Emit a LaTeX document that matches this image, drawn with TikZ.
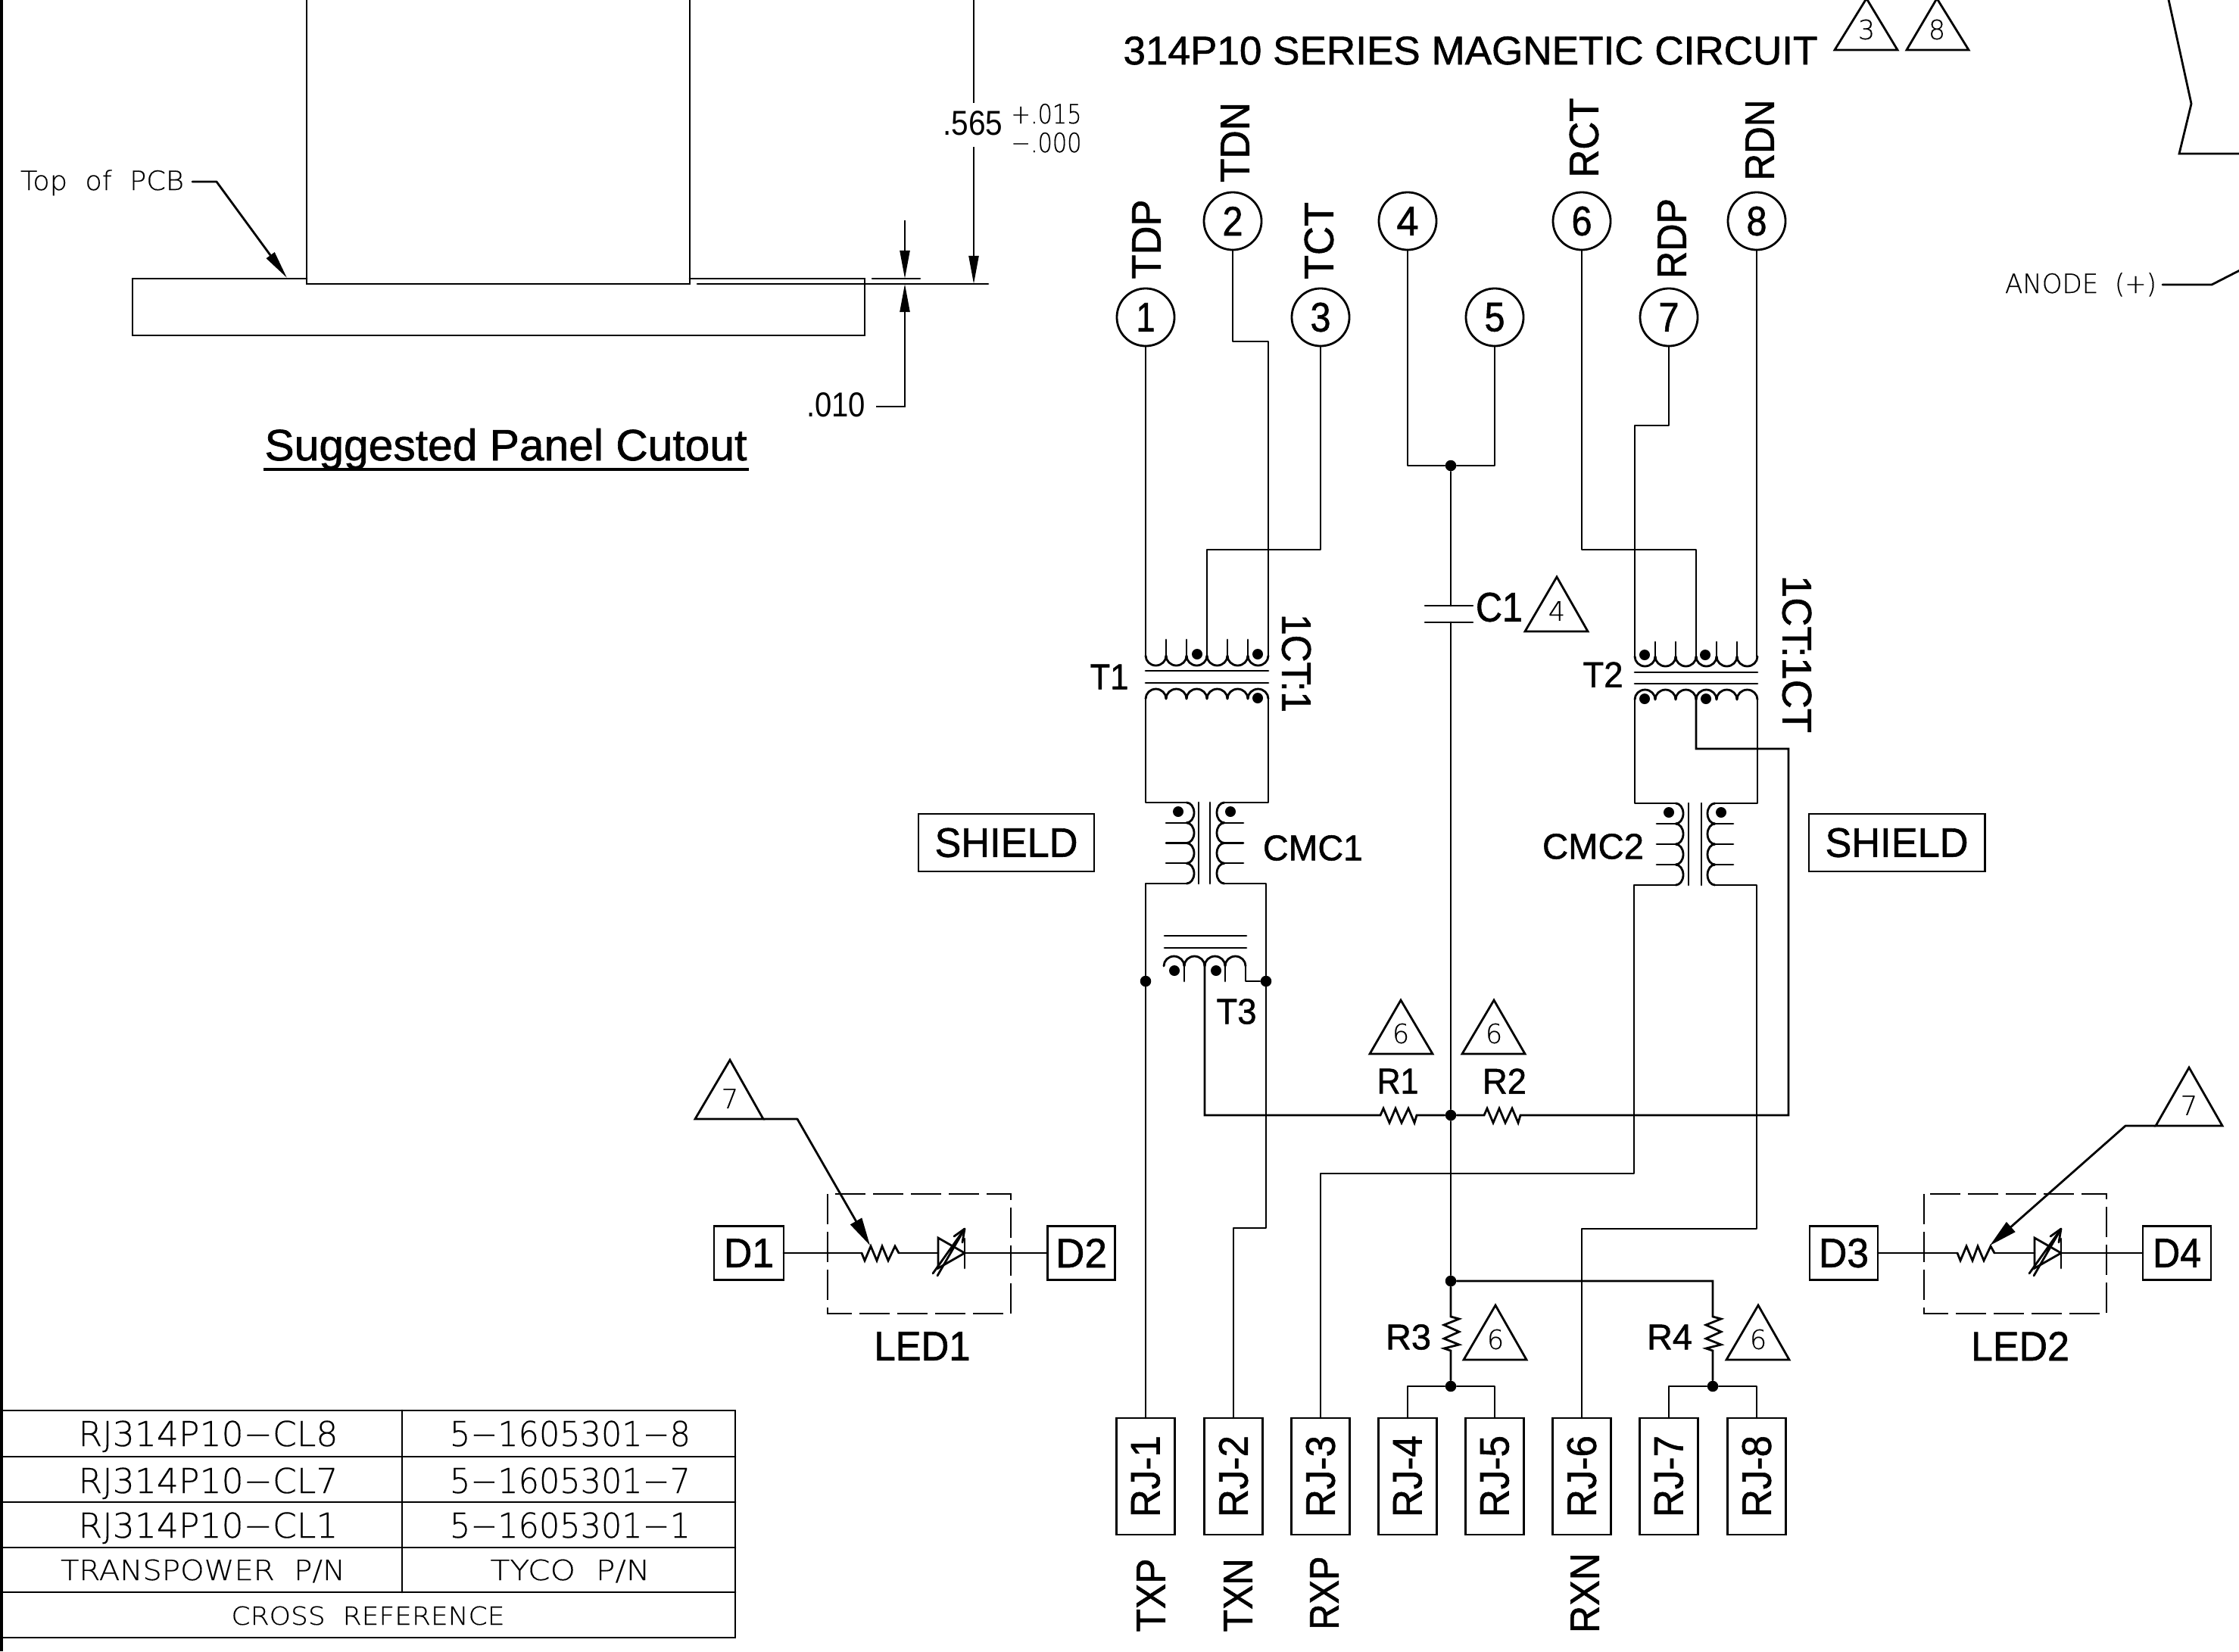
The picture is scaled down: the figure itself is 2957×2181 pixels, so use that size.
\documentclass[tikz,border=0pt]{standalone}
\usepackage{graphicx}
\usepackage{fontspec}
\setmainfont[FakeBold=1.1]{Liberation Sans}
\newfontfamily\plainf{Liberation Sans}
\newfontfamily\cadf[FakeBold=0.3]{DejaVu Sans ExtraLight}
\usetikzlibrary{arrows.meta}
\newlength\pxu \setlength\pxu{0.01cm}
\newcommand{\tw}[2]{\resizebox{#1\pxu}{\height}{#2}}
\newcommand{\hcoil}[5]{% x0, yj, n, endangle, h
  \foreach \i in {1,...,#3}{\draw[wire] ({#1+(\i-1)*27},#2) arc[start angle=180,end angle=#4,x radius=13.5,y radius=#5];}}
\newcommand{\hticks}[4]{% list, y1, y2
  \foreach \xx in {#1}{\draw[wire] (\xx,#2) -- (\xx,#3);}}
\newcommand{\vcoil}[5]{% x, y0, step, start, end
  \foreach \i in {0,1,2,3}{\draw[wire] (#1,{#2+\i*#3}) arc[start angle=#4,end angle=#5,x radius=10,y radius={#3/2}];}}
\newcommand{\tri}[7]{% name,xl,xr,ybase,xapex,yapex,digit
  \draw[wire,line join=miter] (#2,#4) -- (#5,#6) -- (#3,#4) -- cycle;
  \node[cad,font=\cadf\fontsize{10}{10}\selectfont] (#1) at ({#5},{#4-27}) {#7};}
\newcommand{\ledres}[1]{%
  \draw[wire,line join=miter] (1138+#1,1655) -- (1142+#1,1665) -- (1150+#1,1646) -- (1158+#1,1665) -- (1165+#1,1646) -- (1173+#1,1665) -- (1182+#1,1646) -- (1187+#1,1655);}
\newcommand{\ledsym}[1]{%
  \draw[wire,line join=miter] (1239+#1,1635) -- (1274+#1,1655) -- (1239+#1,1675) -- cycle;
  \draw[wire] (1274+#1,1636) -- (1274+#1,1675);
  \draw[wire,line join=miter] (1232+#1,1682) -- (1274+#1,1623) -- (1238+#1,1685);
  \draw[wire] (1260+#1,1633) -- (1274+#1,1623) -- (1271+#1,1641);}
\tikzset{
  wire/.style={line width=0.028cm,line cap=round,line join=round},
  lab/.style={inner sep=0,outer sep=0,font=\fontsize{15.5}{15.5}\selectfont},
  mid/.style={inner sep=0,outer sep=0,font=\fontsize{13.5}{13.5}\selectfont},
  cad/.style={inner sep=0,outer sep=0,font=\cadf\fontsize{10}{10}\selectfont},
  plain/.style={inner sep=0,outer sep=0,font=\plainf\fontsize{13}{13}\selectfont},
  pin/.style={circle,draw,line width=0.028cm,minimum size=0.76cm,inner sep=0,lab},
  rj/.style={rectangle,draw,line width=0.028cm,minimum width=1.54cm,minimum height=0.77cm,inner sep=0,rotate=90,lab},
  dbox/.style={rectangle,draw,line width=0.028cm,minimum height=0.71cm,inner sep=0,lab},
  dotn/.style={circle,fill=black,inner sep=0,minimum size=0.145cm},
  pdot/.style={circle,fill=black,inner sep=0,minimum size=0.14cm},
  tipA/.style={-{Triangle[length=0.37cm,width=0.13cm]}},
  tipB/.style={-{Triangle[length=0.37cm,width=0.17cm]}},
  tipC/.style={{Triangle[length=0.37cm,width=0.13cm]}-},
}
\begin{document}
\begin{tikzpicture}[x=0.01cm,y=-0.01cm]
\useasboundingbox (0,0) rectangle (2957,2181);
\fill[white] (0,0) rectangle (2957,2181);
% frame
\draw[line width=0.032cm] (2,0) -- (2,2181);
% panel cutout
\coordinate (pcbA) at (175,368); \coordinate (pcbB) at (405,368);
\coordinate (pcbC) at (911,368); \coordinate (pcbD) at (1142,368);
\draw[wire,line join=miter] (405,0) -- (405,375) -- (911,375) -- (911,0);
\draw[wire,line join=miter] (pcbB) -- (pcbA) -- (175,443) -- (1142,443) -- (pcbD) -- (pcbC);
\draw[wire] (921,375) -- (1305,375);
\draw[wire] (1152,368) -- (1215,368);
\draw[line width=0.022cm,tipA] (1195,291) -- (1195,368);
\coordinate (dimB) at (1195,537);
\draw[line width=0.022cm,tipC] (1195,375) -- (dimB) -- (1157,537);
\draw[line width=0.022cm] (1286,0) -- (1286,136);
\draw[line width=0.022cm,tipA] (1286,194) -- (1286,375);
\node[plain,anchor=base] (d565) at (1285,178) {\tw{79}{.565}};
\node[cad,anchor=base] (dplus) at (1382,163) {\tw{93}{+.015}};
\node[cad,anchor=base] (dminus) at (1382,201) {\tw{93}{−.000}};
\node[plain,anchor=base] (d010) at (1104,550) {\tw{78}{.010}};
\node[cad,anchor=base] (topcb) at (135,251) {\tw{216}{Top\ \ of\ \ PCB}};
\coordinate (topk) at (286,240);
\draw[wire,tipA] (254,240) -- (topk) -- (379,367);
\node[lab,anchor=base,font=\fontsize{16.5}{16.5}\selectfont] (panel) at (668,608) {\tw{637}{Suggested Panel Cutout}};
\draw[line width=0.035cm] (348,620) -- (989,620);
% top right fragments
\draw[wire,line join=miter] (2863,-5) -- (2894,137) -- (2878,203) -- (2960,203);
\node[cad,anchor=base] (anode) at (2748,387) {\tw{200}{ANODE\ \ (+)}};
\draw[wire] (2856,376) -- (2921,376) -- (2960,356);
% title
\node[lab,anchor=base,font=\fontsize{15}{15}\selectfont] (title) at (1942,85) {\tw{917}{314P10 SERIES MAGNETIC CIRCUIT}};
\tri{tr3}{2423}{2506}{66}{2465}{-2}{3}
\tri{tr8}{2518}{2600}{66}{2558}{-2}{8}
% pins
\node[pin] (p1) at (1513,419) {\tw{25}{1}};
\node[pin] (p2) at (1628,292) {\tw{27}{2}};
\node[pin] (p3) at (1744,419) {\tw{27}{3}};
\node[pin] (p4) at (1859,292) {\tw{29}{4}};
\node[pin] (p5) at (1974,419) {\tw{27}{5}};
\node[pin] (p6) at (2089,292) {\tw{27}{6}};
\node[pin] (p7) at (2204,419) {\tw{27}{7}};
\node[pin] (p8) at (2320,292) {\tw{27}{8}};
\node[lab,rotate=90] (TDP) at (1514,316) {\tw{105}{TDP}};
\node[lab,rotate=90] (TDN) at (1631,188) {\tw{106}{TDN}};
\node[lab,rotate=90] (TCT) at (1742,318) {\tw{102}{TCT}};
\node[lab,rotate=90] (RCT) at (2092,182) {\tw{105}{RCT}};
\node[lab,rotate=90] (RDP) at (2208,315) {\tw{106}{RDP}};
\node[lab,rotate=90] (RDN) at (2324,185) {\tw{107}{RDN}};
% RJ boxes
\node[rj] (rj1) at (1513,1950) {\tw{108}{RJ-1}};
\node[rj] (rj2) at (1629,1950) {\tw{108}{RJ-2}};
\node[rj] (rj3) at (1744,1950) {\tw{108}{RJ-3}};
\node[rj] (rj4) at (1859,1950) {\tw{108}{RJ-4}};
\node[rj] (rj5) at (1974,1950) {\tw{108}{RJ-5}};
\node[rj] (rj6) at (2089,1950) {\tw{108}{RJ-6}};
\node[rj] (rj7) at (2204,1950) {\tw{108}{RJ-7}};
\node[rj] (rj8) at (2320,1950) {\tw{108}{RJ-8}};
\node[lab,rotate=90] (TXP) at (1520,2107) {\tw{97}{TXP}};
\node[lab,rotate=90] (TXN) at (1635,2107) {\tw{97}{TXN}};
\node[lab,rotate=90] (RXP) at (1749,2104) {\tw{97}{RXP}};
\node[lab,rotate=90] (RXN) at (2093,2104) {\tw{106}{RXN}};
% T1
\hcoil{1513}{866}{6}{0}{13}
\hcoil{1513}{923}{6}{360}{13}
\hticks{1540,1567,1621,1648}{845}{866}
\hticks{1540,1567,1594,1621,1648}{923}{943}
\draw[wire] (1513,886) -- (1675,886);
\draw[wire] (1513,902) -- (1675,902);
\node[pdot] (t1a) at (1581,864) {};
\node[pdot] (t1b) at (1661,864) {};
\node[pdot] (t1c) at (1661,922) {};
% T1 windings to pins
\draw[wire] (p1) -- (1513,866);
\draw[wire] (p2) -- (1628,451) -- (1675,451) -- (1675,866);
\draw[wire] (p3) -- (1744,726) -- (1594,726) -- (1594,866);
\node[mid] (T1) at (1465,894) {\tw{51}{T1}};
\node[lab,rotate=-90] (ratio1) at (1712,876) {\tw{130}{1CT:1}};
% CMC1
\vcoil{1567}{1060}{26.75}{-90}{90}
\vcoil{1617}{1060}{26.75}{270}{90}
\draw[wire] (1583,1060) -- (1583,1167);
\draw[wire] (1598,1060) -- (1598,1167);
\foreach \yy in {1087,1113.5,1140}{\draw[wire] (1540,\yy) -- (1567,\yy); \draw[wire] (1617,\yy) -- (1642,\yy);}
\node[pdot] (c1a) at (1556,1072) {};
\node[pdot] (c1b) at (1625,1072) {};
\draw[wire] (1513,923) -- (1513,1060) -- (1567,1060);
\draw[wire] (1675,923) -- (1675,1060) -- (1617,1060);
\draw[wire] (1567,1167) -- (1513,1167) -- (rj1);
\draw[wire] (1617,1167) -- (1672,1167) -- (1672,1622) -- (1629,1622) -- (rj2);
\node[mid] (CMC1) at (1734,1120) {\tw{132}{CMC1}};
% T3
\draw[wire] (1538,1236) -- (1646,1236);
\draw[wire] (1538,1252) -- (1646,1252);
\node[dotn] (nl) at (1513,1296) {};
\node[dotn] (nr) at (1672,1296) {};
\hcoil{1537}{1276}{4}{360}{13}
\hticks{1564,1618}{1276}{1296}
\draw[wire] (nl) -- (1537,1296) -- (1537,1276);
\draw[wire] (nr) -- (1645,1296) -- (1645,1276);
\node[pdot] (t3a) at (1551,1282) {};
\node[pdot] (t3b) at (1606,1282) {};
\node[mid] (T3) at (1633,1336) {\tw{53}{T3}};
% T2
\hcoil{2159}{867}{6}{0}{13}
\hcoil{2159}{924}{6}{360}{13}
\hticks{2186,2213,2267,2294}{848}{867}
\hticks{2186,2213,2267,2294}{924}{943}
\draw[wire] (2159,888) -- (2321,888);
\draw[wire] (2159,903) -- (2321,903);
\node[pdot] (t2a) at (2172,865) {};
\node[pdot] (t2b) at (2252,865) {};
\node[pdot] (t2c) at (2172,923) {};
\node[pdot] (t2d) at (2253,923) {};
\draw[wire] (p6) -- (2089,726) -- (2240,726) -- (2240,867);
\draw[wire] (p7) -- (2204,562) -- (2159,562) -- (2159,867);
\draw[wire] (p8) -- (2320,867);
\node[mid] (T2) at (2117,891) {\tw{53}{T2}};
\node[lab,rotate=-90] (ratio2) at (2373,864) {\tw{208}{1CT:1CT}};
% CMC2
\vcoil{2213}{1061}{27}{-90}{90}
\vcoil{2265}{1061}{27}{270}{90}
\draw[wire] (2230,1061) -- (2230,1169);
\draw[wire] (2247,1061) -- (2247,1169);
\foreach \yy in {1088,1115,1142}{\draw[wire] (2188,\yy) -- (2213,\yy); \draw[wire] (2265,\yy) -- (2289,\yy);}
\node[pdot] (c2a) at (2204,1073) {};
\node[pdot] (c2b) at (2273,1073) {};
\draw[wire] (2159,924) -- (2159,1061) -- (2213,1061);
\draw[wire] (2321,924) -- (2321,1061) -- (2265,1061);
\draw[wire] (2213,1169) -- (2158,1169) -- (2158,1550) -- (1744,1550) -- (rj3);
\draw[wire] (2265,1169) -- (2320,1169) -- (2320,1623) -- (2089,1623) -- (rj6);
\node[mid] (CMC2) at (2104,1118) {\tw{134}{CMC2}};
% SHIELD
\node[dbox,minimum width=2.32cm,minimum height=0.76cm] (shl) at (1329,1113) {\tw{189}{SHIELD}};
\node[dbox,minimum width=2.32cm,minimum height=0.76cm] (shr) at (2505,1113) {\tw{189}{SHIELD}};
% centre column
\node[dotn] (j1) at (1916,615) {};
\node[dotn] (j2) at (1916,1473) {};
\node[dotn] (j3) at (1916,1692) {};
\node[dotn] (j4) at (1916,1831) {};
\node[dotn] (j5) at (2262,1831) {};
\draw[wire] (p4) |- (j1);
\draw[wire] (p5) |- (j1);
\coordinate (c1t) at (1916,800); \coordinate (c1b2) at (1916,822);
\draw[wire] (j1) -- (c1t);
\draw[wire] (c1b2) -- (j2);
\draw[wire] (j2) -- (j3);
\draw[wire] (1882,800) -- (1945,800);
\draw[wire] (1882,822) -- (1945,822);
\node[lab] (C1) at (1980,802) {\tw{62}{C1}};
\tri{tr4}{2014}{2097}{834}{2056}{762}{4}
% R1 R2
\draw[wire,line join=miter] (1591,1276) -- (1591,1473) -- (1823,1473) -- (1827,1464) -- (1835,1483) -- (1843,1464) -- (1851,1483) -- (1860,1464) -- (1868,1483) -- (1871,1473) -- (j2);
\draw[wire,line join=miter] (j2) -- (1960,1473) -- (1964,1464) -- (1972,1483) -- (1980,1464) -- (1988,1483) -- (1997,1464) -- (2005,1483) -- (2008,1473) -- (2362,1473) -- (2362,989) -- (2240,989) -- (2240,924);
\node[mid] (R1) at (1846,1428) {\tw{55}{R1}};
\node[mid] (R2) at (1987,1428) {\tw{58}{R2}};
\tri{tr6a}{1809}{1892}{1392}{1850}{1321}{6}
\tri{tr6b}{1931}{2014}{1392}{1973}{1321}{6}
% R3 R4
\draw[wire,line join=miter] (j3) -- (1916,1739) -- (1927,1742) -- (1907,1750) -- (1927,1759) -- (1907,1768) -- (1927,1776) -- (1907,1781) -- (1916,1784) -- (j4);
\draw[wire,line join=miter] (j3) -- (2262,1692) -- (2262,1739) -- (2273,1742) -- (2253,1750) -- (2273,1759) -- (2253,1768) -- (2273,1776) -- (2253,1781) -- (2262,1784) -- (j5);
\node[mid] (R3) at (1860,1766) {\tw{60}{R3}};
\node[mid] (R4) at (2205,1766) {\tw{60}{R4}};
\tri{tr6c}{1933}{2016}{1796}{1975}{1724}{6}
\tri{tr6d}{2280}{2363}{1796}{2322}{1724}{6}
\draw[wire] (rj4) |- (j4);
\draw[wire] (rj5) |- (j4);
\draw[wire] (rj7) |- (j5);
\draw[wire] (rj8) |- (j5);
% LED1
\node[dbox,minimum width=0.92cm] (D1) at (989,1655) {\tw{66}{D1}};
\node[dbox,minimum width=0.89cm] (D2) at (1428,1655) {\tw{68}{D2}};
\draw[wire,dash pattern=on 0.4cm off 0.1cm,line cap=butt,line join=miter] (1093,1577) rectangle (1335,1735);
\ledres{0}
\ledsym{0}
\coordinate (r1i) at (1138,1655); \coordinate (r1o) at (1187,1655);
\coordinate (l1i) at (1239,1655); \coordinate (l1o) at (1274,1655);
\draw[wire] (D1) -- (r1i);
\draw[wire] (r1o) -- (l1i);
\draw[wire] (l1o) -- (D2);
\node[lab] (LED1) at (1218,1778) {\tw{127}{LED1}};
\tri{tr7a}{918}{1008}{1478}{964}{1400}{7}
\coordinate (lk1) at (1053,1478);
\draw[wire,tipB] (1008,1478) -- (lk1) -- (1149,1645);
% LED2
\node[dbox,minimum width=0.90cm] (D3) at (2435,1655) {\tw{66}{D3}};
\node[dbox,minimum width=0.90cm] (D4) at (2875,1655) {\tw{64}{D4}};
\draw[wire,dash pattern=on 0.4cm off 0.1cm,line cap=butt,line join=miter] (2541,1577) rectangle (2782,1735);
\ledres{1447}
\ledsym{1448}
\coordinate (r2i) at (2585,1655); \coordinate (r2o) at (2634,1655);
\coordinate (l2i) at (2687,1655); \coordinate (l2o) at (2722,1655);
\draw[wire] (D3) -- (r2i);
\draw[wire] (r2o) -- (l2i);
\draw[wire] (l2o) -- (D4);
\node[lab] (LED2) at (2668,1778) {\tw{130}{LED2}};
\tri{tr7b}{2847}{2935}{1487}{2891}{1410}{7}
\coordinate (lk2) at (2807,1487);
\draw[wire,tipB] (2847,1487) -- (lk2) -- (2628,1645);
% table
\draw[wire,line join=miter] (2,1863) -- (971,1863) -- (971,2163) -- (2,2163);
\foreach \yy in {1924,1984,2044,2103}{\draw[wire] (2,\yy) -- (971,\yy);}
\draw[wire] (531,1863) -- (531,2103);
\node[anchor=base,inner sep=0,font=\cadf\fontsize{12.9}{13}\selectfont] (a1) at (275,1910) {\tw{343}{RJ314P10−CL8}};
\node[anchor=base,inner sep=0,font=\cadf\fontsize{12.9}{13}\selectfont] (a2) at (275,1972) {\tw{343}{RJ314P10−CL7}};
\node[anchor=base,inner sep=0,font=\cadf\fontsize{12.9}{13}\selectfont] (a3) at (275,2031) {\tw{343}{RJ314P10−CL1}};
\node[anchor=base,inner sep=0,font=\cadf\fontsize{12.9}{13}\selectfont] (b1) at (753,1910) {\tw{318}{5−1605301−8}};
\node[anchor=base,inner sep=0,font=\cadf\fontsize{12.9}{13}\selectfont] (b2) at (753,1972) {\tw{318}{5−1605301−7}};
\node[anchor=base,inner sep=0,font=\cadf\fontsize{12.9}{13}\selectfont] (b3) at (753,2031) {\tw{318}{5−1605301−1}};
\node[anchor=base,inner sep=0,font=\cadf\fontsize{10.5}{11}\selectfont] (a4) at (268,2087) {\tw{376}{TRANSPOWER\ \ P/N}};
\node[anchor=base,inner sep=0,font=\cadf\fontsize{10.5}{11}\selectfont] (b4) at (753,2087) {\tw{211}{TYCO\ \ P/N}};
\node[anchor=base,inner sep=0,font=\cadf\fontsize{9.4}{10}\selectfont] (xref) at (486,2146) {\tw{361}{CROSS\ \ REFERENCE}};
\end{tikzpicture}
\end{document}
